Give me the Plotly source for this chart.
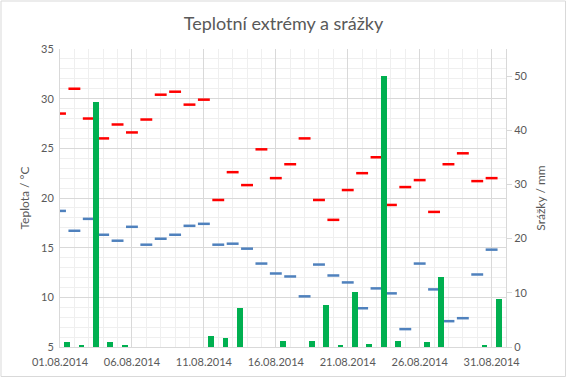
import pandas as pd
import plotly.graph_objects as go

days = pd.date_range("2014-08-01", periods=31, freq="D")
t_max = [28.5, 31.0, 28.0, 26.0, 27.4, 26.6, 27.9, 30.4, 30.7, 29.4, 29.9, 19.8, 22.6, 21.3, 24.9, 22.0,
         23.4, 26.0, 19.8, 17.8, 20.8, 22.5, 24.1, 19.3, 21.1, 21.8, 18.6, 23.4, 24.5, 21.7, 22.0]
t_min = [18.7, 16.7, 17.9, 16.3, 15.7, 17.1, 15.3, 15.9, 16.3, 17.2, 17.4, 15.3, 15.4, 14.9, 13.4, 12.4,
         12.1, 10.1, 13.3, 12.2, 11.5, 8.9, 10.9, 10.4, 6.8, 13.4, 10.8, 7.6, 7.9, 12.3, 14.8]
precip = [0.9, 0.2, 45.3, 0.9, 0.3, 0, 0, 0, 0, 0, 2.0, 1.6, 7.2, 0, 0, 1.1,
          0, 1.1, 7.7, 0.3, 10.1, 0.5, 50.1, 1.1, 0, 0.9, 12.9, 0, 0, 0.2, 8.8]
tick_dates = ["2014-08-01", "2014-08-06", "2014-08-11", "2014-08-16", "2014-08-21", "2014-08-26", "2014-08-31"]
tick_labels = ["01.08.2014", "06.08.2014", "11.08.2014", "16.08.2014", "21.08.2014", "26.08.2014", "31.08.2014"]

DAY = 86400000
FONT = "Lato, Carlito, Calibri, 'Open Sans', sans-serif"
GREY = "#595959"

fig = go.Figure()
fig.add_trace(go.Bar(x=days, y=precip, yaxis="y2", name="Srážky",
                     xperiod=DAY, xperiodalignment="middle", width=0.4 * DAY,
                     marker=dict(color="#00B050", line=dict(width=0))))
fig.add_trace(go.Scatter(x=days, y=t_max, mode="markers", name="Tmax",
                         marker=dict(symbol="line-ew", size=8.5, color="#FF0000",
                                     line=dict(color="#FF0000", width=2.5))))
fig.add_trace(go.Scatter(x=days, y=t_min, mode="markers", name="Tmin",
                         marker=dict(symbol="line-ew", size=8.5, color="#4F81BD",
                                     line=dict(color="#4F81BD", width=2.5))))

L, R, T, B = 60, 61, 49, 31
W, H = 567, 378
pw, ph = W - L - R, H - T - B

fig.update_layout(
    width=W, height=H,
    margin=dict(l=L, r=R, t=T, b=B, pad=0, autoexpand=False),
    paper_bgcolor="white", plot_bgcolor="white",
    showlegend=False,
    font=dict(family=FONT, size=11, color=GREY),
    title=dict(text="Teplotní extrémy a srážky", x=0.5, xanchor="center", y=1 - 24 / H, yanchor="middle",
               font=dict(family=FONT, size=18, color=GREY)),
    bargap=0,
    xaxis=dict(type="date", range=["2014-08-01", "2014-09-01"],
               tickvals=tick_dates, ticktext=tick_labels, ticks="", ticklabelstandoff=5,
               showgrid=True, gridcolor="#d9d9d9", gridwidth=1,
               minor=dict(dtick=DAY, tick0="2014-08-01", showgrid=True, gridcolor="#efefef", gridwidth=1),
               showline=True, linecolor="#d9d9d9", linewidth=1, mirror=False,
               zeroline=False, tickfont=dict(size=11, color=GREY)),
    yaxis=dict(range=[5, 35], dtick=5, tick0=5, showgrid=True, gridcolor="#d9d9d9",
               minor=dict(dtick=1, showgrid=True, gridcolor="#efefef"),
               showline=True, linecolor="#d9d9d9", zeroline=False, ticks="", ticklabelstandoff=3,
               title=dict(text="Teplota / °C", font=dict(size=12, color=GREY), standoff=8),
               tickfont=dict(size=11, color=GREY)),
    yaxis2=dict(range=[0, 55], dtick=10, overlaying="y", side="right", showgrid=False,
                showline=True, linecolor="#d9d9d9", zeroline=False,
                ticks="outside", ticklen=5, tickcolor="#d9d9d9",
                title=dict(text="Srážky / mm", font=dict(size=12, color=GREY), standoff=10),
                tickfont=dict(size=11, color=GREY)),
)

fig.add_shape(type="rect", xref="paper", yref="paper",
              x0=(1 - L) / pw, x1=(W - 1.5 - L) / pw,
              y0=(H - B - (H - 1.5)) / ph, y1=(H - B - 1) / ph,
              line=dict(color="#d9d9d9", width=1), fillcolor="rgba(0,0,0,0)", layer="above")

fig.write_html("out.html", config={"displayModeBar": False},
               post_script="document.body.style.margin='0';document.body.style.padding='0';")
